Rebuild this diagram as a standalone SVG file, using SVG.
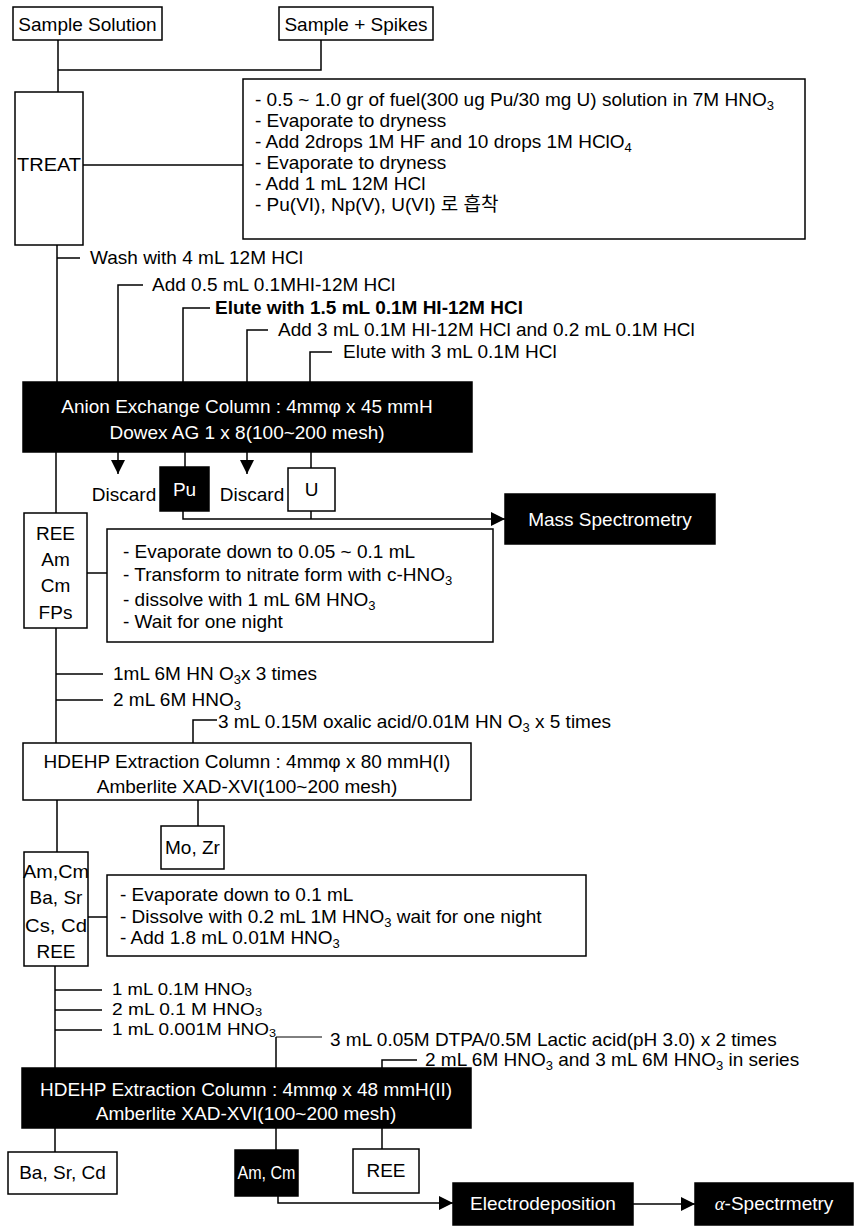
<svg xmlns="http://www.w3.org/2000/svg" width="854" height="1232" viewBox="0 0 854 1232">
<style>
.t{font-family:"Liberation Sans",Arial,"Noto Sans CJK KR",sans-serif;font-size:19px;fill:#000}
.m{font-size:16.5px}
.w{fill:#fff}
.c{text-anchor:middle}
.b{font-weight:bold}
.s{font-size:13px}
.s2{font-size:11px}
.box{fill:#fff;stroke:#000;stroke-width:1.5}
.blk{fill:#000;stroke:#000;stroke-width:1.5}
.ln{fill:none;stroke:#000;stroke-width:1.5}
.thin{fill:none;stroke:#000;stroke-width:1}
</style>
<defs>
<marker id="ah" viewBox="0 0 14 14" refX="14" refY="7" markerWidth="14" markerHeight="14" markerUnits="userSpaceOnUse" orient="auto"><path d="M0,0 L14,7 L0,14 z" fill="#000"/></marker>
</defs>
<rect width="854" height="1232" fill="#fff"/>

<g id="connectors">
<path class="ln" d="M58,40 V92 M321,40 V70 H58"/>
<path class="ln" d="M83,165 H243"/>
<path class="ln" d="M57,245 V382 M57,258 H80"/>
<path class="ln" d="M118,382 V285 H143 M183,382 V308 H210 M247,382 V330 H268 M310,382 V352 H332"/>
<path class="ln" d="M118,452 V474" marker-end="url(#ah)"/>
<path class="ln" d="M247,452 V474" marker-end="url(#ah)"/>
<path class="ln" d="M185,452 V467 M311,452 V468 M56,452 V513"/>
<path class="ln" d="M311,511 V519"/>
<path class="ln" d="M183,511 V519 H505" marker-end="url(#ah)"/>
<path class="ln" d="M87,573 H107"/>
<path class="ln" d="M56,628 V743 M56,674 H103 M56,700 H103 M193,743 V720 H217"/>
<path class="ln" d="M57,800 V852 M198,800 V826"/>
<path class="ln" d="M88,917 H107"/>
<path class="ln" d="M55,966 V1068 M55,990 H102 M55,1010 H102 M55,1030 H102"/>
<path class="ln" d="M276,1068 V1037"/>
<path class="thin" d="M276,1037 H322"/>
<path class="ln" d="M382,1068 V1060 H417"/>
<path class="ln" d="M55,1128 V1152 M276,1128 V1150 M382,1128 V1149"/>
<path class="ln" d="M278,1196 V1203 H453" marker-end="url(#ah)"/>
<path class="ln" d="M633,1204 H695" marker-end="url(#ah)"/>
</g>

<g id="sample-solution"><rect class="box" x="13" y="7" width="149" height="33"/><text class="t c" x="87.5" y="31">Sample Solution</text></g>
<g id="sample-spikes"><rect class="box" x="279" y="7" width="154" height="33"/><text class="t c" x="356" y="31">Sample + Spikes</text></g>
<g id="treat"><rect class="box" x="15" y="92" width="68" height="153"/><text class="t c" x="49" y="171" textLength="64" lengthAdjust="spacingAndGlyphs">TREAT</text></g>
<g id="treat-steps"><rect class="box" x="243" y="79" width="562" height="160"/>
<text class="t" x="255" y="106">- 0.5 ~ 1.0 gr of fuel(300 ug Pu/30 mg U) solution in 7M HNO<tspan class="s" dy="4">3</tspan></text>
<text class="t" x="255" y="127">- Evaporate to dryness</text>
<text class="t" x="255" y="148">- Add 2drops 1M HF and 10 drops 1M HClO<tspan class="s" dy="4">4</tspan></text>
<text class="t" x="255" y="169">- Evaporate to dryness</text>
<text class="t" x="255" y="190">- Add 1 mL 12M HCl</text>
<text class="t" x="255" y="211">- Pu(VI), Np(V), U(VI) 로 흡착</text>
</g>

<g id="labels-anion">
<text class="t" x="90" y="264">Wash with 4 mL 12M HCl</text>
<text class="t" x="152" y="291">Add 0.5 mL 0.1MHI-12M HCl</text>
<text class="t b" x="215" y="314">Elute with 1.5 mL 0.1M HI-12M HCl</text>
<text class="t" x="278" y="336">Add 3 mL 0.1M HI-12M HCl and 0.2 mL 0.1M HCl</text>
<text class="t" x="343" y="358">Elute with 3 mL 0.1M HCl</text>
</g>

<g id="anion-column"><rect class="blk" x="23" y="382" width="449" height="70"/>
<text class="t w c" x="247" y="413">Anion Exchange Column : 4mmφ x  45 mmH</text>
<text class="t w c" x="247" y="439">Dowex AG 1 x  8(100~200 mesh)</text></g>

<g id="discard1"><text class="t c" x="124" y="501">Discard</text></g>
<g id="pu"><rect class="blk" x="160" y="467" width="49" height="44"/><text class="t w c" x="184.5" y="496">Pu</text></g>
<g id="discard2"><text class="t c" x="252" y="501">Discard</text></g>
<g id="u"><rect class="box" x="288" y="468" width="47" height="43"/><text class="t c" x="311.5" y="496">U</text></g>
<g id="mass-spec"><rect class="blk" x="505" y="494" width="210" height="50"/><text class="t w c" x="610" y="526">Mass Spectrometry</text></g>

<g id="ree-am-cm-fps"><rect class="box" x="24" y="513" width="63" height="115"/>
<text class="t c" x="55.5" y="540">REE</text>
<text class="t c" x="55.5" y="566">Am</text>
<text class="t c" x="55.5" y="592">Cm</text>
<text class="t c" x="55.5" y="619">FPs</text></g>
<g id="evap-steps"><rect class="box" x="107" y="529" width="386" height="113"/>
<text class="t" x="123" y="558">- Evaporate down to 0.05 ~ 0.1 mL</text>
<text class="t" x="123" y="581">- Transform to nitrate form with c-HNO<tspan class="s" dy="4">3</tspan></text>
<text class="t" x="123" y="606">- dissolve with 1 mL 6M HNO<tspan class="s" dy="4">3</tspan></text>
<text class="t" x="123" y="628">- Wait for one night</text></g>

<g id="labels-hdehp1">
<text class="t" x="113" y="680">1mL 6M HN O<tspan class="s" dy="4">3</tspan><tspan dy="-4">x 3 times</tspan></text>
<text class="t" x="113" y="706">2 mL 6M HNO<tspan class="s" dy="4">3</tspan></text>
<text class="t" x="218" y="728">3 mL 0.15M oxalic acid/0.01M HN O<tspan class="s" dy="4">3</tspan><tspan dy="-4"> x 5 times</tspan></text>
</g>

<g id="hdehp1"><rect class="box" x="23" y="743" width="448" height="57"/>
<text class="t c" x="247" y="768">HDEHP Extraction Column : 4mmφ x  80 mmH(I)</text>
<text class="t c" x="247" y="793">Amberlite XAD-XVI(100~200 mesh)</text></g>

<g id="mo-zr"><rect class="box" x="161" y="826" width="63" height="43"/><text class="t c" x="192.5" y="854">Mo, Zr</text></g>
<g id="am-cm-ba"><rect class="box" x="24" y="852" width="64" height="114"/>
<text class="t c" x="56" y="878" textLength="66" lengthAdjust="spacingAndGlyphs">Am,Cm</text>
<text class="t c" x="56" y="904">Ba, Sr</text>
<text class="t c" x="56" y="932" textLength="62" lengthAdjust="spacingAndGlyphs">Cs, Cd</text>
<text class="t c" x="56" y="958">REE</text></g>
<g id="evap2-steps"><rect class="box" x="107" y="875" width="479" height="81"/>
<text class="t" x="120" y="901">- Evaporate down to 0.1 mL</text>
<text class="t" x="120" y="923">- Dissolve with 0.2 mL 1M HNO<tspan class="s" dy="4">3</tspan><tspan dy="-4"> wait for one night</tspan></text>
<text class="t" x="120" y="944">- Add 1.8 mL 0.01M HNO<tspan class="s" dy="4">3</tspan></text></g>

<g id="labels-hdehp2">
<text class="t m" x="112" y="995" textLength="140" lengthAdjust="spacingAndGlyphs">1 mL 0.1M HNO<tspan class="s2" dy="1">3</tspan></text>
<text class="t m" x="112" y="1015" textLength="150" lengthAdjust="spacingAndGlyphs">2 mL 0.1 M HNO<tspan class="s2" dy="1">3</tspan></text>
<text class="t m" x="112" y="1035" textLength="164" lengthAdjust="spacingAndGlyphs">1 mL 0.001M HNO<tspan class="s2" dy="2">3</tspan></text>
<text class="t" x="330" y="1046">3 mL 0.05M DTPA/0.5M Lactic acid(pH 3.0) x 2 times</text>
<text class="t" x="425" y="1066">2 mL 6M HNO<tspan class="s" dy="4">3</tspan><tspan dy="-4"> and 3 mL 6M HNO</tspan><tspan class="s" dy="4">3</tspan><tspan dy="-4"> in series</tspan></text>
</g>

<g id="hdehp2"><rect class="blk" x="22" y="1068" width="449" height="60"/>
<text class="t w c" x="246" y="1096">HDEHP Extraction Column : 4mmφ x  48 mmH(II)</text>
<text class="t w c" x="246" y="1120">Amberlite XAD-XVI(100~200 mesh)</text></g>

<g id="ba-sr-cd"><rect class="box" x="8" y="1152" width="109" height="42"/><text class="t c" x="62.5" y="1179">Ba, Sr, Cd</text></g>
<g id="am-cm"><rect class="blk" x="235" y="1150" width="63" height="46"/><text class="t w c" x="266.5" y="1179" textLength="58" lengthAdjust="spacingAndGlyphs">Am, Cm</text></g>
<g id="ree"><rect class="box" x="353" y="1149" width="66" height="44"/><text class="t c" x="386" y="1177">REE</text></g>
<g id="electrodeposition"><rect class="blk" x="453" y="1183" width="180" height="42"/><text class="t w c" x="543" y="1210">Electrodeposition</text></g>
<g id="alpha-spec"><rect class="blk" x="695" y="1183" width="158" height="42"/><text class="t w c" x="774" y="1210"><tspan font-family="'Liberation Serif',serif" font-style="italic">α</tspan>-Spectrmetry</text></g>
</svg>
